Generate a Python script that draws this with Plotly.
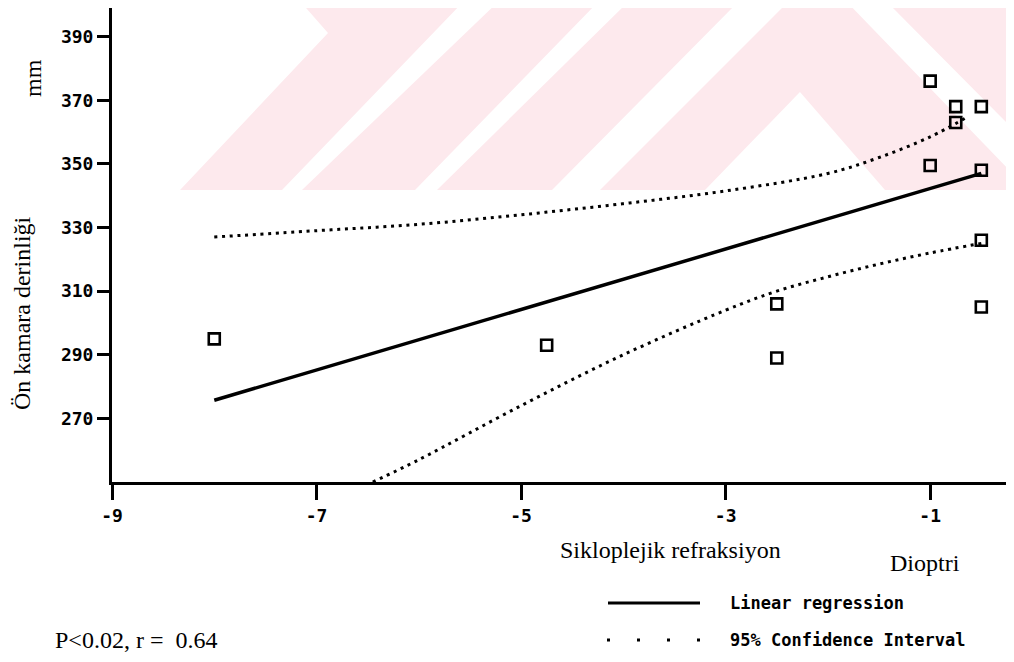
import plotly.graph_objects as go

# ---- data ----
x_points = [-8, -4.75, -2.5, -2.5, -1, -1, -0.75, -0.75, -0.5, -0.5, -0.5, -0.5]
y_points = [295, 293, 306, 289, 376, 349.5, 368, 363, 368, 348, 326, 305]

reg_x = [-8, -0.5]
reg_y = [275.7, 347]

ci_upper_x = [-8, -7, -6, -5, -4, -3, -2, -1.5, -1, -0.65]
ci_upper_y = [327, 329, 331, 334, 337.5, 341.5, 347, 352, 358.5, 364.5]

ci_lower_x = [-6.45, -6, -5, -4, -3, -2.5, -2, -1.5, -1, -0.5]
ci_lower_y = [250, 257, 274, 290, 304, 310, 314.5, 318.5, 322, 325]

x_ticks = [-9, -7, -5, -3, -1]
x_tick_labels = ["-9", "-7", "-5", "-3", "-1"]
y_ticks = [270, 290, 310, 330, 350, 370, 390]
y_tick_labels = ["270", "290", "310", "330", "350", "370", "390"]

# ---- layout geometry (page body adds an 8px margin) ----
OFF = 8
W, H = 1014 - OFF, 662 - OFF
L, R, T, B = 104, 2, 0, 180
PW = W - L - R
PH = H - T - B


def px(x):
    """screen x (pixels) -> paper x"""
    return (x - OFF - L) / PW


def py(y):
    """screen y (pixels) -> paper y"""
    return 1 - (y - OFF - T) / PH


fig = go.Figure()

# confidence interval
for cx, cy in ((ci_upper_x, ci_upper_y), (ci_lower_x, ci_lower_y)):
    fig.add_trace(go.Scatter(
        x=cx, y=cy, mode="lines",
        line=dict(color="black", width=3, dash="3px,4.7px", shape="spline"),
        showlegend=False, hoverinfo="skip"))

# regression line
fig.add_trace(go.Scatter(
    x=reg_x, y=reg_y, mode="lines",
    line=dict(color="black", width=3.5),
    showlegend=False, hoverinfo="skip"))

# data points
fig.add_trace(go.Scatter(
    x=x_points, y=y_points, mode="markers",
    marker=dict(symbol="square-open", size=11, color="black",
                line=dict(width=2.6, color="black")),
    showlegend=False, hoverinfo="skip"))

# ---- faint watermark (pink stripes from the scanned page) ----
pink = "#fde9ed"
pink_polys = [
    [(180, 190), (328, 33), (299, 0), (465, 0), (282, 190)],
    [(302, 190), (500, 0), (600, 0), (415, 190)],
    [(437, 190), (630, 0), (740, 0), (552, 190)],
    [(600, 190), (790, 0), (1014, 0), (1014, 190)],
]
white_polys = [
    [(705, 190), (800, 92), (885, 190)],
    [(845, 0), (885, 0), (1014, 130), (1014, 175)],
]
shapes = []


def poly_path(pts):
    return "M " + " L ".join(f"{px(x):.4f},{py(y):.4f}" for x, y in pts) + " Z"


for pts in pink_polys:
    shapes.append(dict(type="path", xref="paper", yref="paper", path=poly_path(pts),
                       fillcolor=pink, line=dict(width=0), layer="below"))
for pts in white_polys:
    shapes.append(dict(type="path", xref="paper", yref="paper", path=poly_path(pts),
                       fillcolor="white", line=dict(width=0), layer="below"))

# legend samples
shapes.append(dict(type="line", xref="paper", yref="paper",
                   x0=px(608), x1=px(700), y0=py(603), y1=py(603),
                   line=dict(color="black", width=3)))
shapes.append(dict(type="line", xref="paper", yref="paper",
                   x0=px(607), x1=px(700), y0=py(640), y1=py(640),
                   line=dict(color="black", width=3, dash="3px,27px")))

serif = "Liberation Serif"
mono = "DejaVu Sans Mono"

annotations = [
    dict(text="mm", x=px(33), y=py(78), textangle=-90),
    dict(text="Ön kamara derinliği", x=px(22), y=py(313), textangle=-90),
    dict(text="Sikloplejik refraksiyon", x=px(670), y=py(550)),
    dict(text="Dioptri", x=px(925), y=py(563)),
    dict(text="P&lt;0.02, r =  0.64", x=px(53), y=py(640), xanchor="left"),
]
for a in annotations:
    a.update(xref="paper", yref="paper", showarrow=False,
             font=dict(family=serif, size=24, color="black"))
    a.setdefault("xanchor", "center")
    a.setdefault("yanchor", "middle")

for txt, yy in (("Linear regression", 603), ("95% Confidence Interval", 640)):
    annotations.append(dict(text=txt, x=px(728), y=py(yy), xref="paper", yref="paper",
                            xanchor="left", yanchor="middle", showarrow=False,
                            font=dict(family=mono, size=17, color="black", weight="bold")))

fig.update_layout(
    width=W, height=H,
    margin=dict(l=L, r=R, t=T, b=B, pad=0),
    paper_bgcolor="white", plot_bgcolor="rgba(0,0,0,0)",
    shapes=shapes, annotations=annotations,
    showlegend=False,
    xaxis=dict(range=[-9, -0.2], tickvals=x_ticks, ticktext=x_tick_labels,
               showgrid=False, zeroline=False, showline=True, linecolor="black",
               linewidth=3, ticks="outside", ticklen=15, tickwidth=2.5, tickcolor="black",
               tickfont=dict(family=mono, size=18, color="black", weight="bold")),
    yaxis=dict(range=[250, 399], tickvals=y_ticks, ticktext=y_tick_labels,
               showgrid=False, zeroline=False, showline=True, linecolor="black",
               linewidth=3, ticks="outside", ticklen=12, tickwidth=2.5, tickcolor="black",
               tickfont=dict(family=mono, size=18, color="black", weight="bold")),
)

fig.write_html("out.html")
